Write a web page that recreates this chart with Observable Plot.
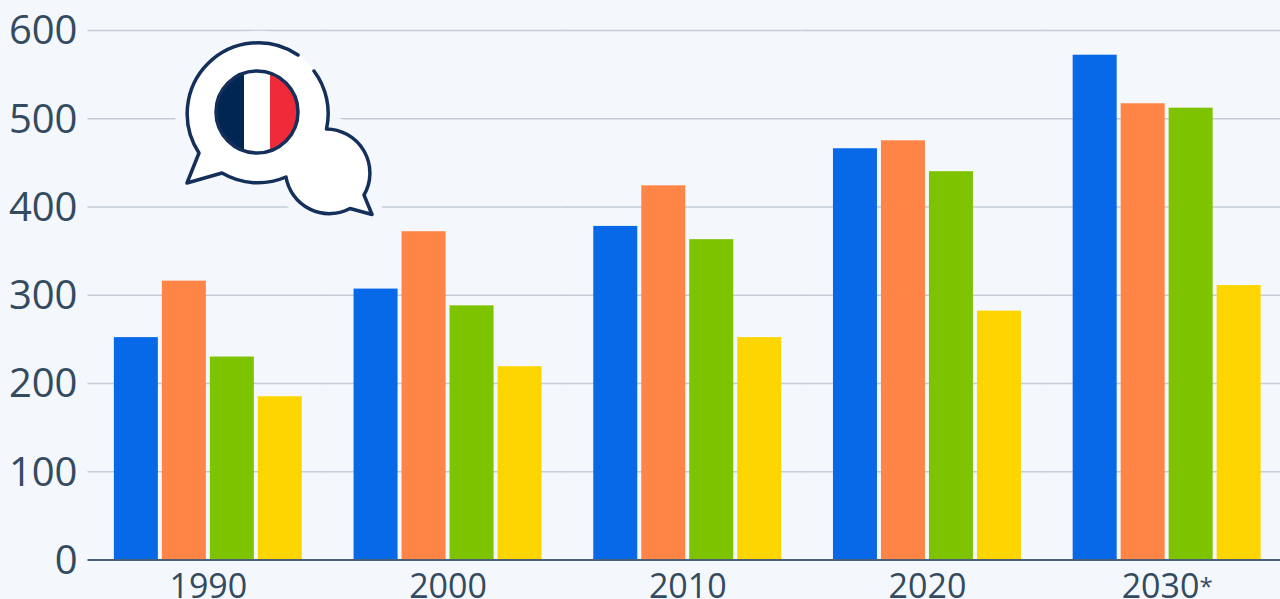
<!DOCTYPE html>
<html>
<head>
<meta charset="utf-8">
<script src="https://cdn.jsdelivr.net/npm/d3@7"></script>
<script src="https://cdn.jsdelivr.net/npm/@observablehq/plot@0.6"></script>
<style>
html,body{margin:0;padding:0;width:1280px;height:599px;overflow:hidden;background:#f4f7fb;}
#wrap{position:relative;width:1280px;height:599px;overflow:hidden;}
#wrap svg{display:block;max-width:none !important;}
#icon{position:absolute;left:0;top:0;width:1280px;height:599px;overflow:visible;pointer-events:none;}
</style>
</head>
<body>
<div id="wrap"></div>
<script>
const years = ["1990","2000","2010","2020","2030*"];
const seriesNames = ["A","B","C","D"];
const seriesColors = ["#0768e8","#ff8547","#7dc300","#ffd500"];
const valuesA = [252,307,378,466,572];
const valuesB = [316,372,424,475,517];
const valuesC = [230,288,363,440,512];
const valuesD = [185,219,252,282,311];
const yTicks = [0,100,200,300,400,500,600];

const allValues = [valuesA,valuesB,valuesC,valuesD];
const rows = [];
years.forEach((year,i)=>seriesNames.forEach((s,j)=>rows.push({year,series:s,value:allValues[j][i]})));

const textColor = "#334b60";
const plot = Plot.plot({
  width:1286.5,height:599,
  marginTop:30,marginBottom:39.5,marginLeft:88,marginRight:0,
  style:{background:"transparent",fontFamily:"'Open Sans',sans-serif",color:textColor,overflow:"hidden",maxWidth:"none"},
  fx:{domain:years,padding:0,round:false,label:null},
  x:{domain:seriesNames,paddingInner:4/48,paddingOuter:0.539,round:false,axis:null},
  y:{domain:[0,600],label:null},
  color:{domain:seriesNames,range:seriesColors},
  marks:[
    Plot.ruleY(yTicks.filter(t=>t>0),{stroke:"#c5ccd8",strokeWidth:1.5,insetLeft:-0.5,insetRight:-0.5}),
    Plot.barY(rows,{fx:"year",x:"series",y:"value",fill:"series",inset:0}),
    Plot.ruleY([0],{stroke:"#4a6078",strokeWidth:2,insetLeft:-0.5,insetRight:-0.5}),
    Plot.axisY({ticks:yTicks,tickSize:0,tickPadding:11,fontSize:40,dy:1,label:null,fill:textColor}),
    Plot.axisFx({anchor:"bottom",tickSize:0,tickPadding:14,fontSize:34,label:null,fill:textColor})
  ]
});
const wrap = document.getElementById("wrap");
wrap.appendChild(plot);

// The footnote asterisk is small and raised, as in the reference.
d3.select(plot).selectAll("text").filter(function(){return this.textContent === "2030*";}).each(function(){
  const sel = d3.select(this);
  const host = sel.select("tspan").empty() ? sel : sel.select("tspan");
  host.text("2030");
  host.append("tspan").attr("font-size",24).attr("dy",-3).text("*");
});

const outline = "M314,71 A71,71 0 0 1 326.5,129 A44,44 0 0 1 364,195 L372,214.5 L350,208.5 A44,44 0 0 1 286,177 A71,71 0 0 1 222,173 L187,183 L199,153 A71,71 0 0 1 298,55";
wrap.insertAdjacentHTML("beforeend",`
<svg id="icon" viewBox="0 0 1280 599" aria-hidden="true">
  <defs><clipPath id="flag"><circle cx="257" cy="112" r="41"/></clipPath></defs>
  <path d="${outline} Z" fill="#f4f7fb" stroke="#f4f7fb" stroke-width="24" stroke-linejoin="round"/>
  <path d="${outline} Z" fill="#ffffff" stroke="#ffffff" stroke-width="2"/>
  <path d="${outline}" fill="none" stroke="#14305a" stroke-width="3.5" stroke-linejoin="round" stroke-linecap="round"/>
  <g clip-path="url(#flag)">
    <rect x="210" y="65" width="34" height="94" fill="#002654"/>
    <rect x="244" y="65" width="26" height="94" fill="#ffffff"/>
    <rect x="270" y="65" width="34" height="94" fill="#ef2b3a"/>
  </g>
  <circle cx="257" cy="112" r="41" fill="none" stroke="#14305a" stroke-width="3.5"/>
</svg>`);
</script>
</body>
</html>
